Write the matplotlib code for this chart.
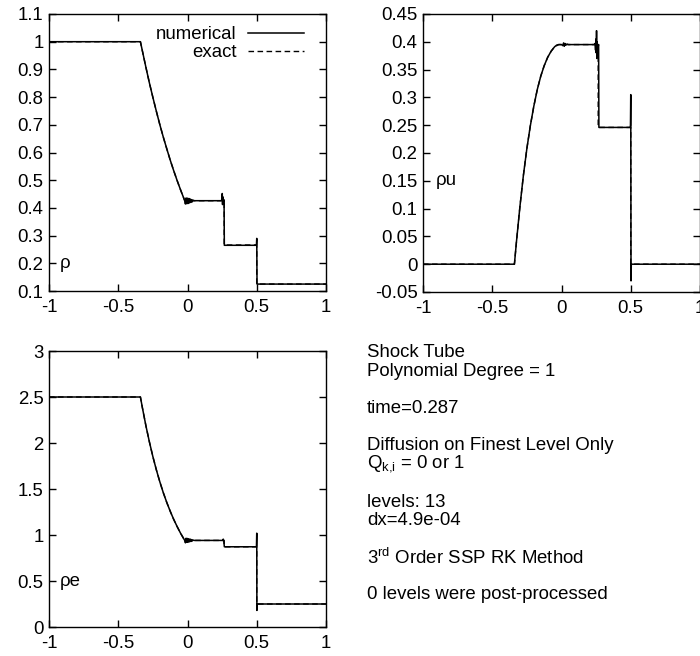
import matplotlib
matplotlib.use("Agg")
import matplotlib.pyplot as plt
from matplotlib.ticker import FixedLocator, FormatStrFormatter

plt.rcParams["font.family"] = ["Liberation Sans", "DejaVu Sans"]
plt.rcParams["mathtext.fontset"] = "custom"
plt.rcParams["mathtext.rm"] = "Liberation Sans"
plt.rcParams["mathtext.it"] = "Liberation Sans:italic"
plt.rcParams["axes.unicode_minus"] = False

FS = 13.4

# exact solution
x_exact = [-1.0, -0.34, -0.325, -0.30, -0.275, -0.25, -0.225, -0.20, -0.175, -0.15,
           -0.125, -0.10, -0.075, -0.05, -0.02, 0.265, 0.265, 0.5, 0.5, 1.0]
rho_exact = [1.0, 1.0, 0.965, 0.907, 0.851, 0.799, 0.749, 0.701, 0.656, 0.614,
             0.573, 0.535, 0.499, 0.465, 0.426, 0.426, 0.266, 0.266, 0.125, 0.125]
rhou_exact = [0.0, 0.0, 0.041, 0.104, 0.160, 0.208, 0.249, 0.284, 0.314, 0.338,
              0.357, 0.372, 0.383, 0.391, 0.395, 0.395, 0.246, 0.246, 0.0, 0.0]
rhoe_exact = [2.5, 2.5, 2.378, 2.185, 2.011, 1.852, 1.709, 1.579, 1.461, 1.355,
              1.259, 1.171, 1.092, 1.019, 0.941, 0.941, 0.872, 0.872, 0.25, 0.25]

# numerical solution (incl. oscillations)
x_rho = [-1.0, -0.34, -0.325, -0.30, -0.275, -0.25, -0.225, -0.20, -0.175, -0.15,
         -0.125, -0.10, -0.075, -0.05, -0.02, -0.015, -0.01, -0.005, 0.0, 0.005,
         0.01, 0.015, 0.02, 0.025, 0.03, 0.035, 0.04, 0.05, 0.24, 0.248, 0.251,
         0.253, 0.255, 0.258, 0.262, 0.264, 0.266, 0.496, 0.498, 0.5, 0.502, 1.0]
rho_num = [1.0, 1.0, 0.965, 0.907, 0.851, 0.799, 0.749, 0.701, 0.656, 0.614,
           0.573, 0.535, 0.499, 0.465, 0.426, 0.414, 0.436, 0.415, 0.435, 0.416,
           0.434, 0.418, 0.432, 0.42, 0.43, 0.422, 0.428, 0.426, 0.426, 0.428,
           0.452, 0.412, 0.440, 0.418, 0.430, 0.426, 0.265, 0.265, 0.268, 0.29,
           0.125, 0.125]

x_rhou = [-1.0, -0.34, -0.325, -0.30, -0.275, -0.25, -0.225, -0.20, -0.175, -0.15,
          -0.125, -0.10, -0.075, -0.05, -0.035, -0.02, 0.0, 0.01, 0.015, 0.02,
          0.025, 0.03, 0.04, 0.05, 0.235, 0.242, 0.246, 0.249, 0.251, 0.253,
          0.255, 0.257, 0.262, 0.268, 0.27, 0.496, 0.498, 0.5, 0.502, 0.504, 1.0]
rhou_num = [0.0, 0.0, 0.041, 0.104, 0.160, 0.208, 0.249, 0.284, 0.314, 0.338,
            0.357, 0.372, 0.383, 0.391, 0.394, 0.395, 0.395, 0.393, 0.398, 0.392,
            0.397, 0.394, 0.396, 0.395, 0.395, 0.397, 0.385, 0.405, 0.38, 0.42,
            0.37, 0.40, 0.39, 0.395, 0.246, 0.246, 0.25, 0.305, -0.03, 0.0, 0.0]

x_rhoe = [-1.0, -0.34, -0.325, -0.30, -0.275, -0.25, -0.225, -0.20, -0.175, -0.15,
          -0.125, -0.10, -0.075, -0.05, -0.02, -0.015, -0.01, -0.005, 0.0, 0.005,
          0.01, 0.015, 0.02, 0.025, 0.03, 0.035, 0.04, 0.05, 0.255, 0.258, 0.262,
          0.266, 0.496, 0.498, 0.5, 0.501, 0.503, 1.0]
rhoe_num = [2.5, 2.5, 2.378, 2.185, 2.011, 1.852, 1.709, 1.579, 1.461, 1.355,
            1.259, 1.171, 1.092, 1.019, 0.941, 0.915, 0.965, 0.92, 0.962, 0.922,
            0.958, 0.926, 0.955, 0.93, 0.95, 0.935, 0.945, 0.941, 0.941, 0.955,
            0.935, 0.872, 0.872, 0.88, 1.02, 0.18, 0.25, 0.25]

x_ticks = [-1, -0.5, 0, 0.5, 1]
rho_ticks = [0.1, 0.2, 0.3, 0.4, 0.5, 0.6, 0.7, 0.8, 0.9, 1.0, 1.1]
rhou_ticks = [-0.05, 0.0, 0.05, 0.1, 0.15, 0.2, 0.25, 0.3, 0.35, 0.4, 0.45]
rhoe_ticks = [0, 0.5, 1, 1.5, 2, 2.5, 3]

info_lines = [
    ("Shock Tube", 357),
    ("Polynomial Degree = 1", 376),
    ("time=0.287", 413),
    ("Diffusion on Finest Level Only", 450),
    (r"$\mathregular{Q_{k{,}i}}$ = 0 or 1", 467),
    ("levels: 13", 507),
    ("dx=4.9e-04", 525),
    (r"3$\mathregular{^{rd}}$ Order SSP RK Method", 564),
    ("0 levels were post-processed", 599),
]

W, H = 700, 656
fig = plt.figure(figsize=(W / 100, H / 100), dpi=100)


def make_axes(left, top, right, bottom):
    return fig.add_axes([left / W, 1 - bottom / H, (right - left) / W, (bottom - top) / H])


def style(ax, yticks, ylim):
    ax.set_xlim(-1, 1)
    ax.set_ylim(*ylim)
    ax.xaxis.set_major_locator(FixedLocator(x_ticks))
    ax.yaxis.set_major_locator(FixedLocator(yticks))
    ax.xaxis.set_major_formatter(FormatStrFormatter("%g"))
    ax.yaxis.set_major_formatter(FormatStrFormatter("%g"))
    ax.tick_params(direction="in", length=5, width=1, top=True, right=True,
                   labelsize=FS, colors="black")
    ax.tick_params(axis="x", pad=6)
    ax.tick_params(axis="y", pad=4)
    for s in ax.spines.values():
        s.set_linewidth(1.0)


def draw(ax, xn, yn, ye):
    ln, = ax.plot(xn, yn, color="black", lw=1.1, label="numerical")
    le, = ax.plot(x_exact, ye, color="black", lw=1.0, dashes=(4, 2.5), label="exact")
    return ln, le


ax1 = make_axes(49, 14, 326, 291)
ln, le = draw(ax1, x_rho, rho_num, rho_exact)
style(ax1, rho_ticks, (0.1, 1.1))
ax1.text(-0.92, 0.2, "ρ", fontsize=FS, va="center")
ax1.legend(handles=[ln, le], loc="upper right", bbox_to_anchor=(0.92, 0.955),
           frameon=False, markerfirst=False, fontsize=FS, handlelength=3.0,
           handletextpad=0.6, labelspacing=0.05, borderaxespad=0, borderpad=0)

ax2 = make_axes(423, 14, 700, 292)
draw(ax2, x_rhou, rhou_num, rhou_exact)
style(ax2, rhou_ticks, (-0.05, 0.45))
ax2.text(-0.91, 0.15, "ρu", fontsize=FS, va="center")

ax3 = make_axes(49, 351, 326, 627)
draw(ax3, x_rhoe, rhoe_num, rhoe_exact)
style(ax3, rhoe_ticks, (0, 3))
ax3.text(-0.92, 0.5, "ρe", fontsize=FS, va="center")

for txt, yb in info_lines:
    fig.text(367 / W, 1 - yb / H, txt, fontsize=FS, va="baseline", ha="left")

fig.savefig("out.png", dpi=100)
plt.close(fig)
